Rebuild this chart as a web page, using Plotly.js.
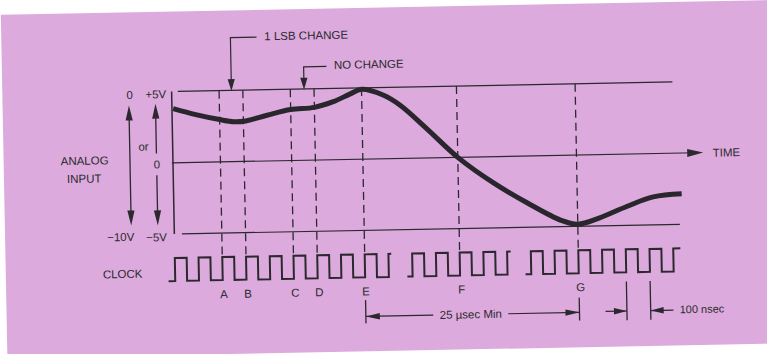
<!DOCTYPE html>
<html><head><meta charset="utf-8">
<script src="https://cdn.plot.ly/plotly-3.0.1.min.js"></script>
<style>
html,body{margin:0;padding:0;background:#fff;overflow:hidden;width:767px;height:354px;}
#chart{position:absolute;left:-17px;top:-23px;width:801px;height:400px;transform:rotate(-1.1deg);transform-origin:50% 50%;}
</style></head><body><div id="chart"></div>
<script>
// ---------------- data ----------------
// time axis in clock cycles, analog input in volts (bipolar scale -5..+5)
const waveT = [0.05, 1, 2, 2.6, 3.1, 4, 5, 6, 6.8, 7.5, 8, 8.9, 9.6, 10.7, 12, 13.5, 14.9, 16.3, 17, 17.9, 19.1, 20.2, 21.4];
const waveV = [3.80, 3.35, 2.97, 2.80, 2.84, 3.21, 3.58, 3.70, 4.07, 4.58, 4.90, 4.47, 3.75, 2.08, 0.0, -1.86, -3.30, -4.56, -4.85, -4.45, -3.66, -3.04, -2.86];
// conversion instants (clock rising edges)
const eventT = [2, 3, 5, 6, 8, 12, 17];
const eventLabels = ['A', 'B', 'C', 'D', 'E', 'F', 'G'];
// clock bursts
const burstStart = [-0.28, 9.78, 14.76];
const burstFirstRise = [0, 10, 15];
const burstLastRise = [9, 14, 21];
const burstTail = [0.12, 0.15, 0.3];
const clockDuty = 0.5;
// reference levels (volts)
const levelTop = 5, levelZero = 0, levelBottom = -5;
// callouts
const lsbChangeT = 2.52;
const noChangeT = 5.58;
const convSpan = [8, 17];      // 25 µsec Min
const nsecSpan = [19, 20];     // 100 nsec

// ---------------- scales ----------------
const W = 767, H = 354;                 // plot area (the visible page)
const ML = 17, MR = 17, MT = 23, MB = 23; // bleed around it
const xRange = [-7.30, 25.01];
const vRange = [-13.70, 11.14];
const cRange = [-3.348, 12.043];
const pxX = W / (xRange[1] - xRange[0]);
const pxV = H / (vRange[1] - vRange[0]);
const pxC = H / (cRange[1] - cRange[0]);
const cToV = c => vRange[1] - (cRange[1] - c) / (cRange[1] - cRange[0]) * (vRange[1] - vRange[0]);

const INK = '#2b282f';
const FONT = 'Liberation Sans, Arial, Helvetica, sans-serif';
const TXT = '#2c2a30';
const traces = [];
const shapes = [];
const annotations = [];

function line(xs, ys, opts = {}, yaxis = 'y') {
  traces.push({x: xs, y: ys, yaxis: yaxis, mode: 'lines', hoverinfo: 'skip',
    line: Object.assign({color: INK, width: 1.3}, opts)});
}
// arrowhead polygon, dir in 'left','right','up','down'; length/halfwidth in px
function head(tx, ty, dir, len, hw, yref = 'y') {
  const py = yref === 'y' ? pxV : pxC;
  const lx = len / pxX, wx = hw / pxX, ly = len / py, wy = hw / py;
  let p;
  if (dir === 'right') p = [[tx, ty], [tx - lx, ty + wy], [tx - lx, ty - wy]];
  if (dir === 'left') p = [[tx, ty], [tx + lx, ty + wy], [tx + lx, ty - wy]];
  if (dir === 'down') p = [[tx, ty], [tx - wx, ty + ly], [tx + wx, ty + ly]];
  if (dir === 'up') p = [[tx, ty], [tx - wx, ty - ly], [tx + wx, ty - ly]];
  shapes.push({type: 'path', xref: 'x', yref: yref, layer: 'above',
    path: 'M' + p.map(q => q[0] + ',' + q[1]).join('L') + 'Z',
    fillcolor: INK, line: {width: 0}});
}
function text(t, x, y, yref = 'y', opts = {}) {
  annotations.push(Object.assign({text: t, x: x, y: y, xref: 'x', yref: yref, showarrow: false,
    font: {family: FONT, size: 11.5, color: TXT}}, opts));
}

// background panel
shapes.push({type: 'rect', xref: 'paper', yref: 'paper', x0: 4 / W, x1: 1.06, y0: 1 - 351 / H, y1: 1 - 7.5 / H,
  fillcolor: '#dcaadc', line: {width: 0}, layer: 'below'});

// reference levels
line([0.26, 21.1], [levelTop, levelTop], {width: 1.2});
line([0.32, 21.3], [levelBottom, levelBottom], {width: 1.2});
line([-0.05, 22.0], [levelZero, levelZero], {width: 1.2});
head(22.34, levelZero, 'right', 16, 4);
line([0, 0], [levelBottom, levelTop], {width: 1.5});

// dashed event markers
const vHigh = cToV(1);
const dx = [], dy = [];
eventT.forEach(t => { dx.push(t, t, null); dy.push(levelTop, vHigh, null); });
line(dx, dy, {width: 1.3, dash: '8px,5px'});

// analog waveform
traces.push({x: waveT, y: waveV, mode: 'lines', hoverinfo: 'skip',
  line: {color: '#2a262e', width: 5, shape: 'spline', smoothing: 1}});

// clock
const cx = [], cy = [];
for (let i = 0; i < burstStart.length; i++) {
  cx.push(burstStart[i]); cy.push(0);
  for (let k = burstFirstRise[i]; k < burstLastRise[i]; k++) {
    cx.push(k, k, k + clockDuty, k + clockDuty); cy.push(0, 1, 1, 0);
  }
  const L = burstLastRise[i];
  cx.push(L, L, L + burstTail[i], null); cy.push(0, 1, 1, null);
}
line(cx, cy, {width: 2}, 'y2');

// event letters
eventT.forEach((t, i) => text(eventLabels[i], t + 0.05, -0.63, 'y2'));

// dimension lines
const dimC = -1.7;
line([convSpan[0], convSpan[0], null, convSpan[1], convSpan[1]], [-0.99, -2.0, null, -1.06, -2.05], {width: 1.3}, 'y2');
line([nsecSpan[0], nsecSpan[0], null, nsecSpan[1], nsecSpan[1]], [-0.40, -2.08, null, -0.40, -2.08], {width: 1.3}, 'y2');
line([convSpan[0], 10.84, null, 14.0, convSpan[1]], [dimC, dimC, null, dimC, dimC], {width: 1.2}, 'y2');
head(convSpan[0], dimC, 'left', 14, 3.2, 'y2');
head(convSpan[1], dimC, 'right', 14, 3.2, 'y2');
text('25 \u00b5sec Min', 12.42, dimC, 'y2');
line([18.1, nsecSpan[0], null, nsecSpan[1], 20.96], [-1.68, -1.68, null, -1.68, -1.68], {width: 1.2}, 'y2');
head(nsecSpan[0], -1.68, 'right', 13, 3.2, 'y2');
head(nsecSpan[1], -1.68, 'left', 13, 3.2, 'y2');
text('100 nsec', 21.12, -1.66, 'y2', {xanchor: 'left', font: {family: FONT, size: 11, color: TXT}});

// callouts
line([lsbChangeT, lsbChangeT, 3.62], [5.6, 8.70, 8.70], {width: 1.2});
head(lsbChangeT, 4.95, 'down', 12, 3.6);
text('1 LSB CHANGE', 3.88, 8.75, 'y', {xanchor: 'left'});
line([noChangeT, noChangeT, 6.54], [5.6, 6.56, 6.56], {width: 1.2});
head(noChangeT, 4.95, 'down', 12, 3.6);
text('NO CHANGE', 6.75, 6.66, 'y', {xanchor: 'left'});

// left scale arrows
line([-1.81, -1.81], [-4.0, 3.75], {width: 1.3});
head(-1.81, 4.08, 'up', 15, 3.6);
head(-1.81, -4.34, 'down', 15, 3.6);
line([-0.69, -0.69], [0.68, 3.8], {width: 1.3});
head(-0.69, 4.17, 'up', 15, 3.6);
line([-0.69, -0.69], [-0.86, -4.0], {width: 1.3});
head(-0.69, -4.37, 'down', 15, 3.6);

text('0', -1.79, 4.85);
text('+5V', -0.67, 4.82);
text('or', -1.24, 1.19);
text('0', -0.69, -0.1);
text('\u221210V', -2.26, -5.17);
text('\u22125V', -0.74, -5.19);
text('ANALOG', -3.73, 0.23);
text('INPUT', -3.73, -1.01);
text('CLOCK', -2.21, 0.36, 'y2');
text('TIME', 23.33, -0.04);

const layout = {
  width: W + ML + MR, height: H + MT + MB, margin: {l: ML, r: MR, t: MT, b: MB, pad: 0},
  paper_bgcolor: '#ffffff', plot_bgcolor: 'rgba(0,0,0,0)', showlegend: false,
  xaxis: {range: xRange, visible: false, fixedrange: true},
  yaxis: {range: vRange, visible: false, fixedrange: true},
  yaxis2: {range: cRange, visible: false, fixedrange: true, overlaying: 'y'},
  shapes: shapes, annotations: annotations
};
Plotly.newPlot('chart', traces, layout, {staticPlot: true, displayModeBar: false});
</script></body></html>
